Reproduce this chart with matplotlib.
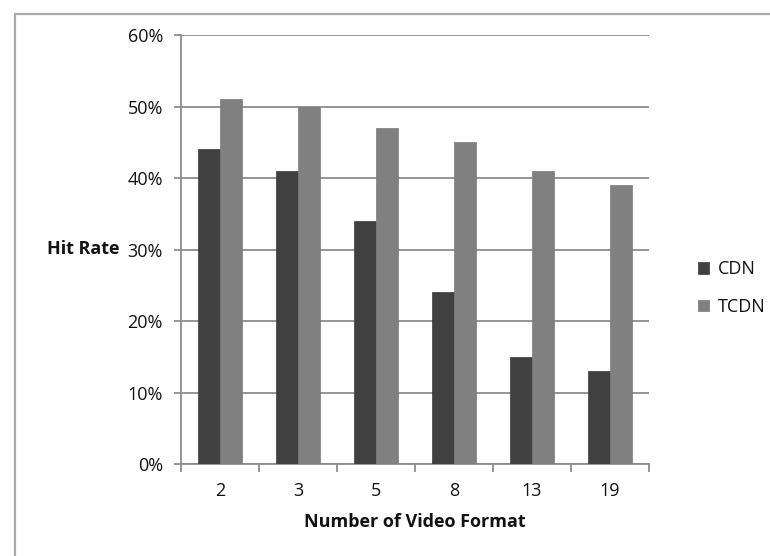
import matplotlib
matplotlib.use("Agg")
from matplotlib import pyplot as plt
import matplotlib.patches as mpatches
import numpy as np

categories = ["2", "3", "5", "8", "13", "19"]
cdn = [44, 41, 34, 24, 15, 13]
tcdn = [51, 50, 47, 45, 41, 39]
yticks = [0, 10, 20, 30, 40, 50, 60]

plt.rcParams['font.family'] = ['Open Sans', 'DejaVu Sans']
grid_c = "#8c8c8c"
txt_c = "#121212"
fs = 13

fig = plt.figure(figsize=(7.7, 5.56), dpi=100)
# outer chart border
fig.patches.append(mpatches.Rectangle((14.5 / 770, -0.1), 1.1, 1 - 14 / 556 + 0.1,
                                      transform=fig.transFigure, fill=False,
                                      edgecolor="#a8a8a8", linewidth=1.6))

ax = fig.add_axes([181 / 770, 1 - 464 / 556, (649 - 181) / 770, (464 - 35) / 556])
x = np.arange(len(categories))
w = 0.28
ax.bar(x - w / 2, cdn, w, color="#404040", edgecolor="#3a3a3a", linewidth=0.5, label="CDN", zorder=3)
ax.bar(x + w / 2, tcdn, w, color="#808080", edgecolor="#7a7a7a", linewidth=0.5, label="TCDN", zorder=3)

ax.set_xlim(-0.5, len(categories) - 0.5)
ax.set_ylim(0, 60)
ax.set_yticks(yticks)
ax.set_yticklabels([f"{v}%" for v in yticks])
ax.yaxis.grid(True, color=grid_c, linewidth=1.3, zorder=0)
ax.set_axisbelow(True)

ax.set_xticks(x)
ax.set_xticklabels(categories)
ax.set_xticks(np.arange(len(categories) + 1) - 0.5, minor=True)
ax.tick_params(axis="x", which="major", length=0, pad=13, labelsize=fs, labelcolor=txt_c)
ax.tick_params(axis="x", which="minor", length=6, color=grid_c, width=1.3)
ax.tick_params(axis="y", length=5, color=grid_c, width=1.3, pad=8, labelsize=fs, labelcolor=txt_c)

for s in ["top", "right"]:
    ax.spines[s].set_visible(False)
for s in ["left", "bottom"]:
    ax.spines[s].set_color(grid_c)
    ax.spines[s].set_linewidth(1.3)

ax.set_xlabel("Number of Video Format", fontweight="bold", fontsize=fs, labelpad=9, color=txt_c)
ax.set_ylabel("Hit Rate", fontweight="bold", fontsize=fs, rotation=0, labelpad=6,
              va="center", ha="right", color=txt_c)

leg = ax.legend(loc="center left", bbox_to_anchor=(1.07, 0.41), frameon=False, fontsize=fs,
                handlelength=0.6, handleheight=0.6, labelspacing=1.1, handletextpad=0.5)
for t in leg.get_texts():
    t.set_color(txt_c)

fig.savefig("out.png", dpi=100)
